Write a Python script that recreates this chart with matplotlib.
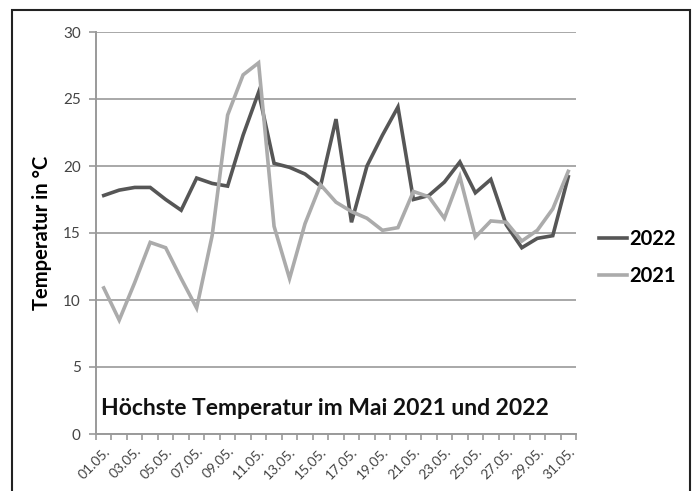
import matplotlib
matplotlib.use("Agg")
import matplotlib.pyplot as plt
import numpy as np
from matplotlib.patches import Rectangle

# tagesdaten mai (hoechste temperatur)
tage = ["%02d.05." % d for d in range(1, 32)]
temp_2022 = [17.8, 18.2, 18.4, 18.4, 17.5, 16.7, 19.1, 18.7, 18.5, 22.3,
             25.5, 20.2, 19.9, 19.4, 18.5, 23.5, 15.8, 20.0, 22.3, 24.4,
             17.5, 17.8, 18.8, 20.3, 18.0, 19.0, 15.6, 13.9, 14.6, 14.8,
             19.2]
temp_2021 = [10.9, 8.5, 11.3, 14.3, 13.9, 11.6, 9.4, 14.8, 23.8, 26.8,
             27.7, 15.5, 11.6, 15.7, 18.6, 17.3, 16.6, 16.1, 15.2, 15.4,
             18.1, 17.7, 16.1, 19.2, 14.7, 15.9, 15.8, 14.4, 15.2, 16.8,
             19.6]
y_ticks = [0, 5, 10, 15, 20, 25, 30]

plt.rcParams['font.family'] = ['Lato', 'DejaVu Sans']

fig = plt.figure(figsize=(6.94, 4.91), dpi=100)
ax = fig.add_axes([96/694, 1 - 434/491, 480/694, 402/491])

x = np.arange(len(tage))
ax.plot(x, temp_2022, color='#565656', lw=2.6, label='2022', solid_joinstyle='miter')
ax.plot(x, temp_2021, color='#ababab', lw=2.6, label='2021', solid_joinstyle='miter')

ax.set_xlim(-0.5, len(tage) - 0.5)
ax.set_ylim(0, 30)
ax.set_yticks(y_ticks)
ax.yaxis.grid(True, color='#9a9a9a', lw=1.2)
ax.set_axisbelow(True)

ax.set_xticks(x[::2])
ax.set_xticklabels(tage[::2], rotation=45, ha='right', rotation_mode='anchor',
                   fontsize=10, color='#444444')
ax.set_xticks(np.arange(-0.5, len(tage)), minor=True)
ax.tick_params(axis='x', which='major', length=0, pad=8)
ax.tick_params(axis='x', which='minor', length=4, color='#9a9a9a', width=1.2, direction='out')
ax.tick_params(axis='y', length=5, color='#9a9a9a', width=1.2, labelsize=11,
               labelcolor='#444444', pad=6)

for s in ['top', 'right']:
    ax.spines[s].set_visible(False)
for s in ['left', 'bottom']:
    ax.spines[s].set_color('#9a9a9a')
    ax.spines[s].set_linewidth(1.4)

ax.set_ylabel('Temperatur in °C', fontsize=14.5, fontweight='bold', labelpad=8)

ax.text(0.01, 0.063, 'Höchste Temperatur im Mai 2021 und 2022', transform=ax.transAxes,
        fontsize=16.5, fontweight='bold', color='#111111', va='center')

leg = ax.legend(loc='center left', bbox_to_anchor=(1.01, 0.44), frameon=False,
                handlelength=1.4, handletextpad=0.1, labelspacing=0.85,
                borderpad=0.4, prop={'weight': 'bold', 'size': 14.5})

# rahmen um das bild
fig.patches.append(Rectangle((12/694, -0.05), 678/694, 1 - 10/491 + 0.05,
                             transform=fig.transFigure, fill=False,
                             edgecolor='#222222', lw=1.5))

fig.savefig('out.png', dpi=100, facecolor='white')
